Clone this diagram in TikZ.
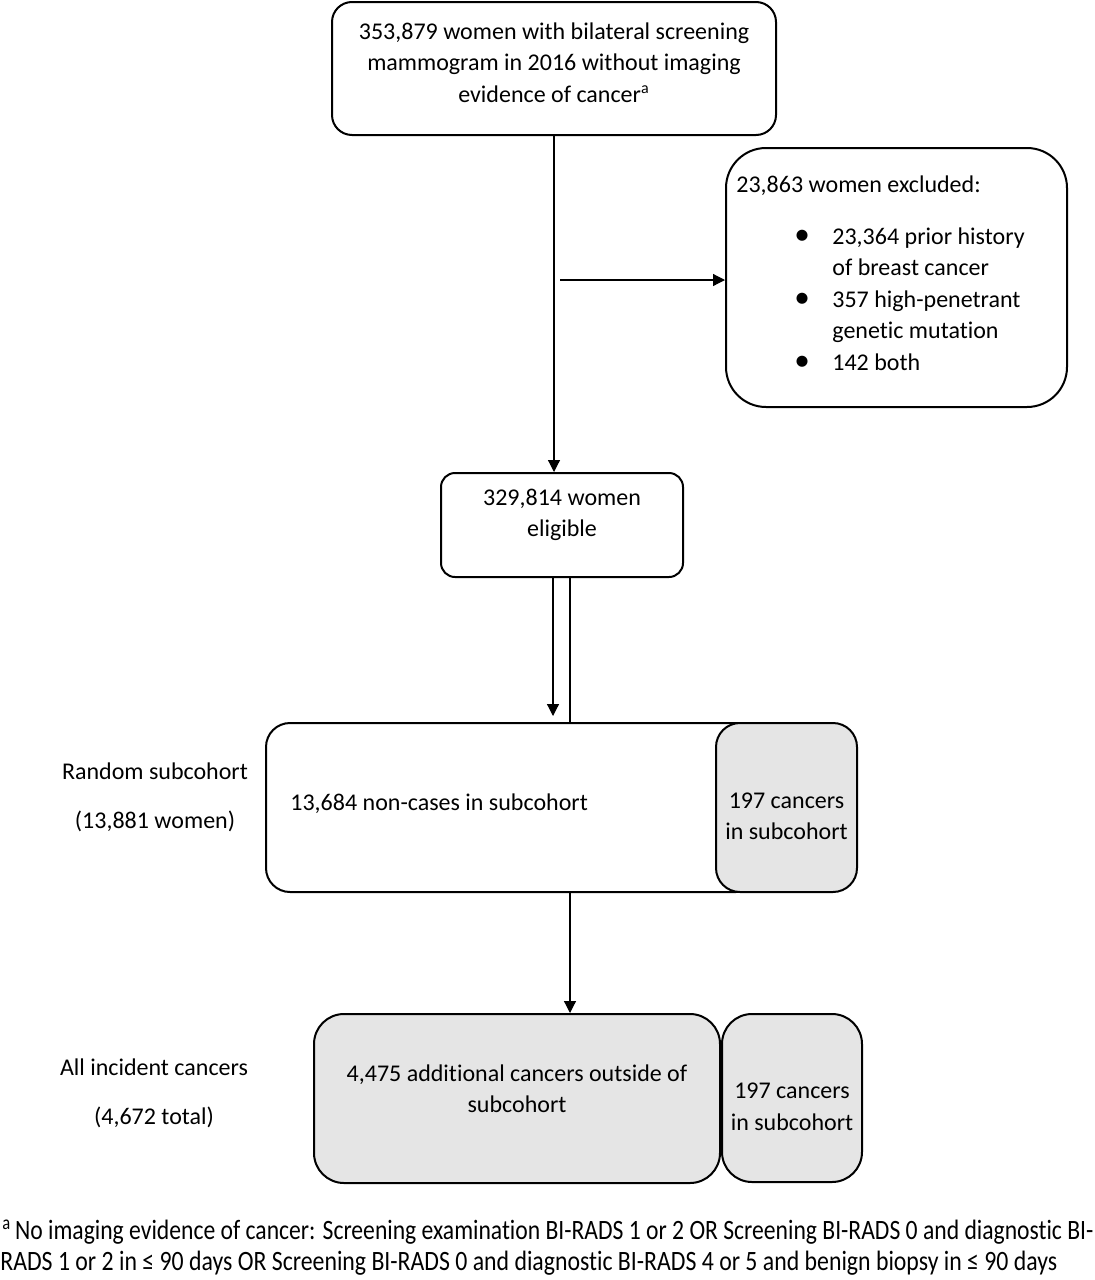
\documentclass[tikz,border=0pt]{standalone}
\usepackage{fontspec, graphicx}
\setmainfont[Ligatures=NoCommon]{Carlito}
\usetikzlibrary{arrows.meta}
\tikzset{
    box/.style = {draw, line width=1pt, rounded corners=#1, align=center, inner sep=0pt},
    box/.default = 10pt,
    greybox/.style = {box=#1, fill=black!10},
    greybox/.default = 12pt,
    link/.style = {line width=0.6pt, -{Triangle[length=6pt, width=6pt]}}
}
\newcommand{\blt}{\makebox[48pt][l]{\hspace{29pt}\scalebox{1.3}{\textbullet}}}

\begin{document}
\begin{tikzpicture}[x=0.5pt, y=-0.5pt, font=\fontsize{12}{15.75}\selectfont]
    \useasboundingbox (0,0) rectangle (1095,1280);
    \node[box=10pt, minimum width=222pt, minimum height=66.5pt, text depth=6pt] (screen) at (554,68.5)
        {353,879 women with bilateral screening\\mammogram in 2016 without imaging\\evidence of cancer\textsuperscript{a}};
    \node[box=20pt, minimum width=170.5pt, minimum height=129.5pt] (excl) at (896.5,277.5) {};
    \node[anchor=north west, inner sep=0pt] (exlist) at (736,170) {%
        \begin{tabular}{@{}l@{}l@{}}
            \multicolumn{2}{@{}l@{}}{23,863 women excluded:}\\[10.25pt]
            \blt & 23,364 prior history\\
                 & of breast cancer\\
            \blt & 357 high-penetrant\\
                 & genetic mutation\\
            \blt & 142 both
        \end{tabular}};
    \node[box=7pt, minimum width=121pt, minimum height=52pt, text depth=12pt] (elig) at (562,525) {329,814 women\\eligible};
    \node[box=12pt, minimum width=247pt, minimum height=84.5pt] (subc) at (513,807.5) {};
    \node[anchor=west, inner sep=0pt] (noncase) at (290,804) {13,684 non-cases in subcohort};
    \node[greybox, minimum width=70.5pt, minimum height=84.5pt] (subca) at (786.5,807.5) {};
    \node[align=center] (subcatext) at ([yshift=-4.5pt]subca) {197 cancers\\in subcohort};
    \node[greybox=15pt, minimum width=203pt, minimum height=84.5pt, text depth=10pt] (extra) at (517,1098.5)
        {4,475 additional cancers outside of\\subcohort};
    \node[greybox=15pt, minimum width=70pt, minimum height=84pt] (allca) at (792,1098) {};
    \node[align=center] (allcatext) at ([yshift=-4.5pt]allca) {197 cancers\\in subcohort};
    \node[align=center] (rlab) at (155,797.5) {Random subcohort\\[8.75pt](13,881 women)};
    \node[align=center] (alab) at (154,1093) {All incident cancers\\[8.75pt](4,672 total)};
    \coordinate (branch) at (560,280);
    \coordinate (cut) at (553,716);
    \coordinate (mid) at (570,0);
    \draw[link] (screen.south) -- (screen.south |- elig.north);
    \draw[link] (branch) -- (branch -| excl.west);
    \draw[link] (elig.south -| cut) -- (cut);
    \draw[line width=0.6pt] (elig.south -| mid) -- (subc.north -| mid);
    \draw[link] (subc.south -| mid) -- (extra.north -| mid);
    \node[anchor=west, inner sep=0pt, font=\fontsize{14}{16}\selectfont] (fn1) at (2,1232)
        {\resizebox{545.5pt}{\height}{\textsuperscript{a}\,No imaging evidence of cancer: Screening examination BI-RADS 1 or 2 OR Screening BI-RADS 0 and diagnostic BI-}};
    \node[anchor=west, inner sep=0pt, font=\fontsize{14}{16}\selectfont] (fn2) at (0,1263)
        {\resizebox{528.5pt}{\height}{RADS 1 or 2 in ≤ 90 days OR Screening BI-RADS 0 and diagnostic BI-RADS 4 or 5 and benign biopsy in ≤ 90 days}};
\end{tikzpicture}
\end{document}
